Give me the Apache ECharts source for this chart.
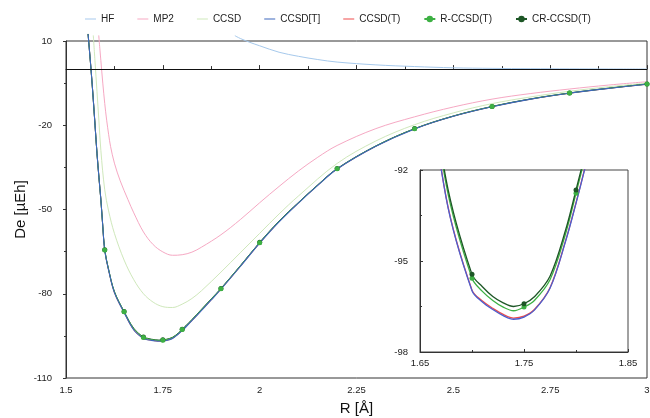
<!DOCTYPE html>
<html>
<head>
<meta charset="utf-8">
<script src="https://cdn.jsdelivr.net/npm/echarts@6/dist/echarts.min.js"></script>
<style>
html,body{margin:0;padding:0;background:#fff;}
#chart{width:650px;height:418px;}
</style>
</head>
<body>
<div id="chart"></div>
<script>
// ---- data (R in Å, De in µEh) ----
const rHF = [1.936, 1.95, 1.975, 2.0, 2.05, 2.1, 2.15, 2.2, 2.3, 2.4, 2.5, 2.6, 2.7, 2.8, 2.9, 3.0];
const hf  = [11.9, 10.9, 9.5, 8.3, 6.0, 4.55, 3.4, 2.5, 1.5, 0.9, 0.45, 0.25, 0.15, 0.1, 0.05, 0.03];

const rMP2 = [1.5845, 1.59, 1.595, 1.6, 1.605, 1.61, 1.615, 1.625, 1.64, 1.66, 1.675, 1.7, 1.725, 1.75, 1.775, 1.8, 1.825, 1.85, 1.9, 1.95, 2.0, 2.05, 2.1, 2.15, 2.2, 2.3, 2.4, 2.5, 2.6, 2.7, 2.8, 2.9, 3.0];
const mp2  = [12, 3, -5, -12.2, -18.2, -23.2, -27.5, -33.5, -39.8, -46.5, -51.2, -58, -62.5, -65.1, -66.3, -66.1, -65.2, -63.4, -59.0, -53.6, -47.6, -41.8, -36.3, -31.4, -27.2, -21.2, -17.0, -13.5, -10.7, -8.7, -7.1, -5.7, -4.5];

const rCCSD = [1.5705, 1.575, 1.58, 1.585, 1.59, 1.6, 1.61, 1.625, 1.65, 1.675, 1.7, 1.725, 1.75, 1.775, 1.8, 1.825, 1.85, 1.9, 1.95, 2.0, 2.05, 2.1, 2.2, 2.3, 2.4, 2.5, 2.6, 2.7, 2.8, 2.9, 3.0];
const ccsd  = [12, 2.5, -8, -18.5, -29, -43, -50.5, -58.5, -68, -75, -80, -83, -84.6, -84.9, -83.7, -81.7, -78.9, -72.3, -65.4, -58.5, -51.6, -45.2, -33.6, -25.6, -19.8, -15.6, -12.3, -9.9, -7.9, -6.3, -5.0];

const rCC = [1.557, 1.565, 1.57, 1.575, 1.58, 1.585, 1.59, 1.595, 1.6, 1.61, 1.625, 1.65, 1.675, 1.7, 1.71, 1.72, 1.73, 1.74, 1.75, 1.76, 1.775, 1.79, 1.8, 1.81, 1.825, 1.85, 1.875, 1.9, 1.95, 2.0, 2.05, 2.1, 2.15, 2.2, 2.3, 2.4, 2.5, 2.6, 2.7, 2.8, 2.9, 3.0];
const ccsdBT = [12.5, -0.8, -10, -20, -30, -38.5, -46.5, -56, -64.6, -71.6, -79.6, -86.7, -92.9, -95.98, -96.35, -96.6, -96.8, -96.92, -96.85, -96.62, -95.9, -94.35, -93.1, -91.75, -89.6, -85.9, -82.2, -78.4, -70.3, -62.0, -54.4, -47.7, -41.4, -35.6, -27.5, -21.3, -16.8, -13.4, -10.7, -8.6, -6.9, -5.4];
const ccsdPT = [12.5, -0.8, -10, -20, -30, -38.5, -46.5, -56, -64.6, -71.6, -79.6, -86.7, -92.88, -95.96, -96.32, -96.56, -96.76, -96.88, -96.82, -96.6, -95.88, -94.33, -93.08, -91.73, -89.6, -85.9, -82.2, -78.4, -70.3, -62.0, -54.4, -47.7, -41.4, -35.6, -27.5, -21.3, -16.8, -13.4, -10.7, -8.6, -6.9, -5.4];
const rccsdT = [12.5, -0.8, -10, -20, -30, -38.5, -46.5, -56, -64.4, -71.4, -79.3, -86.4, -92.45, -95.57, -96.0, -96.3, -96.52, -96.64, -96.52, -96.3, -95.62, -94.1, -92.77, -91.4, -89.3, -85.6, -81.9, -78.2, -70.1, -61.8, -54.2, -47.6, -41.3, -35.5, -27.4, -21.25, -16.75, -13.35, -10.65, -8.55, -6.85, -5.35];
const crccsdT = [12.5, -0.8, -10, -20, -30, -38.5, -46.5, -56, -64.3, -71.3, -79.2, -86.3, -92.3, -95.44, -95.85, -96.17, -96.38, -96.5, -96.41, -96.18, -95.5, -93.98, -92.66, -91.3, -89.2, -85.5, -81.8, -78.1, -70.0, -61.7, -54.1, -47.5, -41.2, -35.4, -27.35, -21.2, -16.7, -13.3, -10.6, -8.5, -6.8, -5.3];

// R values where computed points (markers) are shown
const dotR = [1.6, 1.65, 1.7, 1.75, 1.8, 1.9, 2.0, 2.2, 2.4, 2.6, 2.8, 3.0];

const legendNames = ['HF', 'MP2', 'CCSD', 'CCSD[T]', 'CCSD(T)', 'R-CCSD(T)', 'CR-CCSD(T)'];
const lineOnlyNames = ['HF', 'MP2', 'CCSD', 'CCSD[T]', 'CCSD(T)'];

// ---- helpers ----
const pts = (xs, ys) => xs.map((x, i) => [x, ys[i]]);
const dotted = (xs, ys, size) => xs.map((x, i) => ({value: [x, ys[i]], symbolSize: dotR.includes(x) ? size : 0}));

const C = {
  HF: '#a6c9ec', MP2: '#f6a8c3', CCSD: '#cfe8bb', BT: '#3d66bc', BTi: '#4a5fd0', PT: '#ee4b4b', R: '#3db043', CR: '#1d5626'
};
const FONT = 'Liberation Sans, Arial, Helvetica, sans-serif';

function lineSeries(name, data, color, opts) {
  return Object.assign({
    name, type: 'line', data, smooth: 0.35,
    symbol: 'none', showSymbol: false, clip: false,
    lineStyle: {color, width: 1}, itemStyle: {color},
    emphasis: {disabled: true}, silent: true
  }, opts || {});
}

const chart = echarts.init(document.getElementById('chart'), null, {renderer: 'canvas'});

const axisCommon = {
  axisLine: {show: true, lineStyle: {color: '#333', width: 1}},
  splitLine: {show: false},
  axisLabel: {color: '#222', fontSize: 9.5, fontFamily: FONT}
};

const option = {
  animation: false,
  backgroundColor: '#fff',
  textStyle: {fontFamily: FONT},
  legend: {
    data: legendNames.map(n => lineOnlyNames.includes(n) ? {name: n, icon: 'path://M0,0H22V2H0Z'} : {name: n}),
    left: 80, top: 9, itemWidth: 11, itemHeight: 8, itemGap: 23,
    textStyle: {fontSize: 10, color: '#222', fontFamily: FONT}, selectedMode: false
  },
  grid: [
    {left: 66, right: 3, top: 41, bottom: 40, show: true, borderColor: '#333', borderWidth: 1,
     containLabel: false, outerBoundsMode: 'none'},
    {left: 420, top: 170, width: 208, height: 182, show: true, borderColor: '#444', borderWidth: 1,
     backgroundColor: '#fff', containLabel: false, outerBoundsMode: 'none'}
  ],
  xAxis: [
    Object.assign({}, axisCommon, {
      type: 'value', gridIndex: 0, min: 1.5, max: 3, interval: 0.25,
      axisTick: {show: true, inside: true, length: 4, lineStyle: {color: '#333'}},
      minorTick: {show: true, splitNumber: 2, length: 3, lineStyle: {color: '#333'}},
      axisLabel: {color: '#222', fontSize: 9.5, fontFamily: FONT, margin: 7},
      name: 'R [Å]', nameLocation: 'middle', nameGap: 23, nameMoveOverlap: false,
      nameTextStyle: {fontSize: 15, color: '#111', fontFamily: FONT}
    }),
    Object.assign({}, axisCommon, {
      type: 'value', gridIndex: 1, min: 1.65, max: 1.85, interval: 0.1,
      axisTick: {show: true, inside: true, length: 3, lineStyle: {color: '#333'}},
      minorTick: {show: true, splitNumber: 2, length: 2, lineStyle: {color: '#333'}},
      axisLabel: {color: '#222', fontSize: 9.5, fontFamily: FONT, margin: 6}
    })
  ],
  yAxis: [
    Object.assign({}, axisCommon, {
      type: 'value', gridIndex: 0, min: -110, max: 10, interval: 30,
      axisTick: {show: true, inside: false, length: 3, lineStyle: {color: '#333'}},
      minorTick: {show: true, splitNumber: 2, length: 2, lineStyle: {color: '#333'}},
      axisLabel: {color: '#222', fontSize: 9.5, fontFamily: FONT, margin: 14},
      name: 'De [µEh]', nameLocation: 'middle', nameGap: 38, nameMoveOverlap: false,
      nameTextStyle: {fontSize: 15, color: '#111', fontFamily: FONT}
    }),
    Object.assign({}, axisCommon, {
      type: 'value', gridIndex: 1, min: -98, max: -92, interval: 3,
      axisTick: {show: true, inside: true, length: 3, lineStyle: {color: '#333'}},
      minorTick: {show: true, splitNumber: 2, length: 2, lineStyle: {color: '#333'}},
      axisLabel: {color: '#222', fontSize: 9.5, fontFamily: FONT, margin: 12}
    })
  ],
  series: [
    lineSeries('HF', pts(rHF, hf), C.HF, {
      markLine: {silent: true, symbol: ['none', 'none'], label: {show: false},
        lineStyle: {color: '#111', width: 1, type: 'solid'}, data: [{yAxis: 0}]}
    }),
    lineSeries('MP2', pts(rMP2, mp2), C.MP2),
    lineSeries('CCSD', pts(rCCSD, ccsd), C.CCSD),
    lineSeries('CCSD(T)', pts(rCC, ccsdPT), C.PT),
    lineSeries('CR-CCSD(T)', dotted(rCC, crccsdT, 5), C.CR, {symbol: 'circle', showSymbol: true}),
    lineSeries('R-CCSD(T)', dotted(rCC, rccsdT, 5), C.R, {symbol: 'circle', showSymbol: true}),
    lineSeries('CCSD[T]', pts(rCC, ccsdBT), C.BT, {lineStyle: {color: C.BT, width: 1.1}}),
    // inset
    lineSeries('CCSD(T)', pts(rCC, ccsdPT), C.PT, {xAxisIndex: 1, yAxisIndex: 1, clip: true, lineStyle: {color: C.PT, width: 1.3}}),
    lineSeries('CCSD[T]', pts(rCC, ccsdBT), C.BT, {xAxisIndex: 1, yAxisIndex: 1, clip: true, lineStyle: {color: C.BTi, width: 1.3}}),
    lineSeries('R-CCSD(T)', dotted(rCC, rccsdT, 5), C.R, {xAxisIndex: 1, yAxisIndex: 1, clip: true, symbol: 'circle', showSymbol: true, lineStyle: {color: C.R, width: 1.3}}),
    lineSeries('CR-CCSD(T)', dotted(rCC, crccsdT, 5), C.CR, {xAxisIndex: 1, yAxisIndex: 1, clip: true, symbol: 'circle', showSymbol: true, lineStyle: {color: C.CR, width: 1.3}})
  ]
};
chart.setOption(option);
</script>
</body>
</html>
